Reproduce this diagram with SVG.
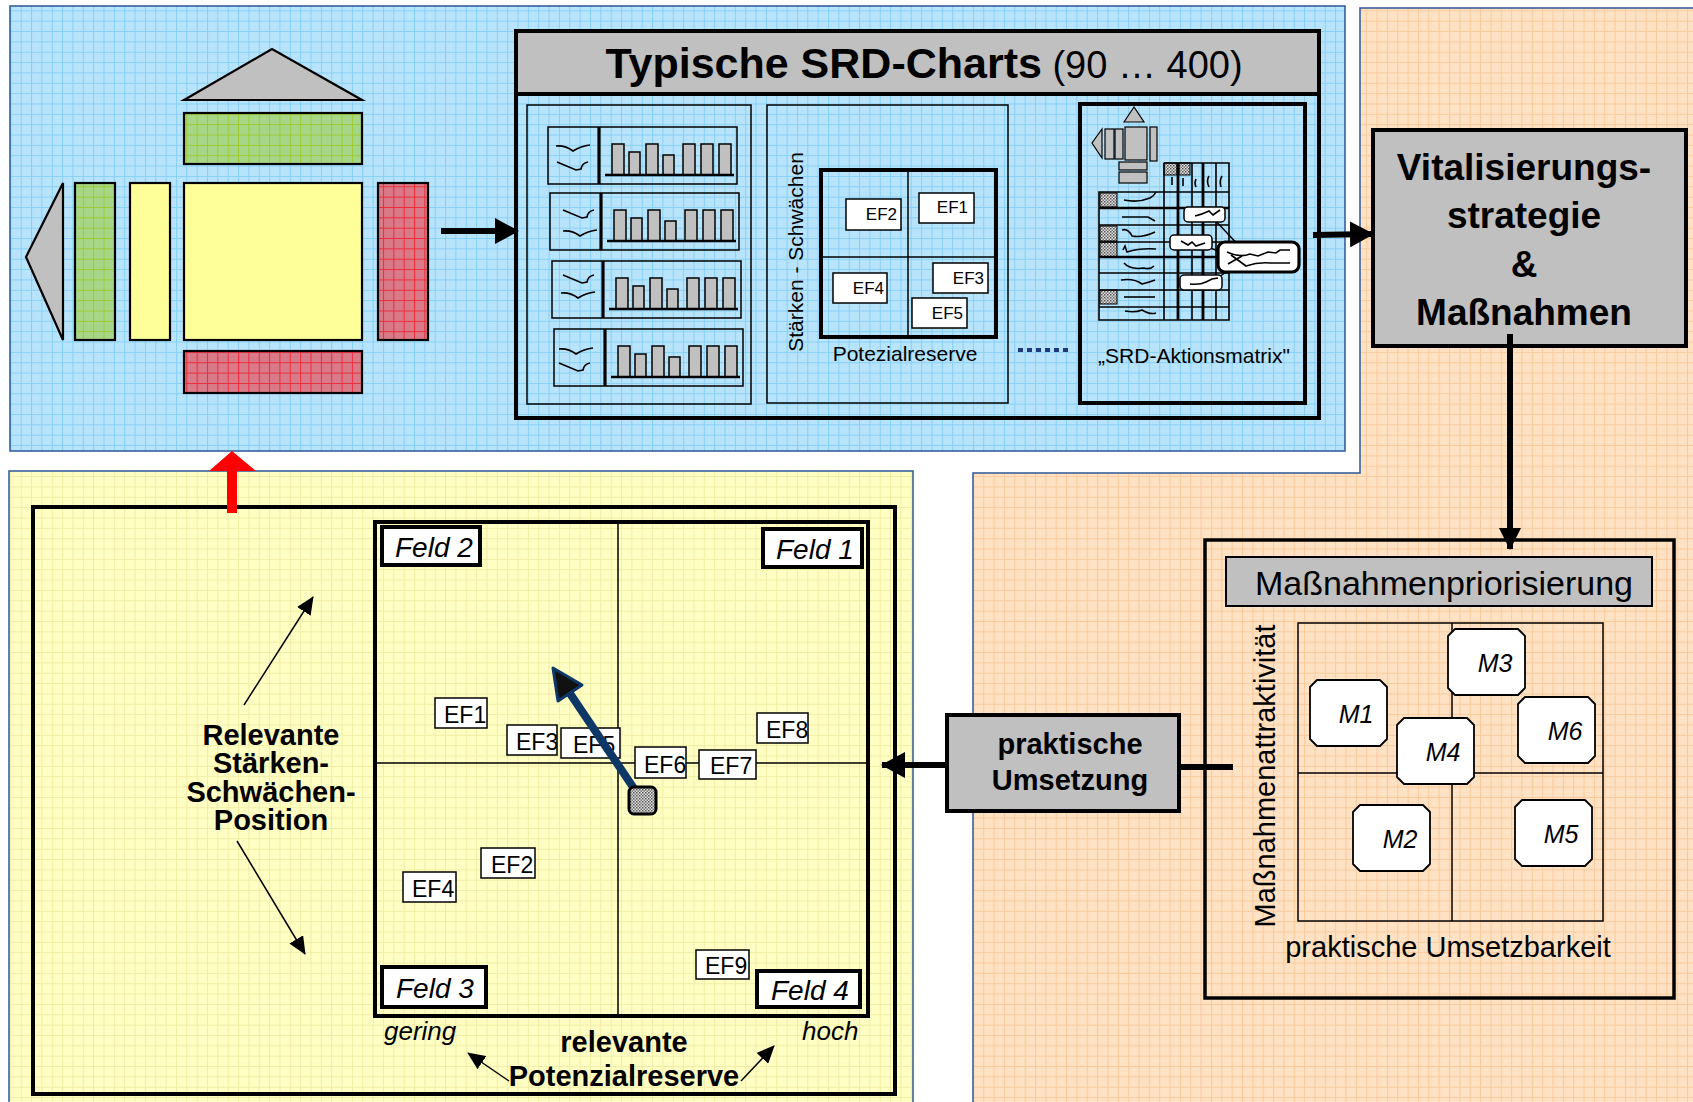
<svg xmlns="http://www.w3.org/2000/svg" xmlns:xlink="http://www.w3.org/1999/xlink" width="1693" height="1102" viewBox="0 0 1693 1102">
  <defs>
    <style>
      text { font-family: "Liberation Sans", Arial, "Noto Sans", sans-serif; fill: #000; }
      .panel { stroke: #2B5797; stroke-width: 1.5; }
      .ln { fill: none; stroke: #000; }
      .thin { fill: none; stroke: #000; stroke-width: 1.5; }
      .gray { fill: #C0C0C0; stroke: #000; stroke-width: 2; }
      .bar { fill: #C0C0C0; stroke: #000; stroke-width: 1.5; }
      .white { fill: #FFF; stroke: #000; stroke-width: 1.5; }
      .feld { fill: #FFF; stroke: #000; stroke-width: 4; }
      .feldtxt { font-size: 28px; font-style: italic; }
      .ef { font-size: 23px; }
      .efs { font-size: 17px; text-anchor: end; }
      .mtxt { font-size: 25px; font-style: italic; text-anchor: middle; }
      .sq { fill: none; stroke: #000; stroke-width: 1.6; }
      .conn { fill: none; stroke: #000; stroke-width: 6; }
    </style>
    <!-- background grids -->
    <pattern id="grid-blue" width="10.35" height="10.35" patternUnits="userSpaceOnUse">
      <rect width="10.35" height="10.35" fill="#B8E4FB"/>
      <path d="M0,0.5H10.35M0.5,0V10.35" stroke="#86CFF6" stroke-width="1"/>
    </pattern>
    <pattern id="grid-yellow" width="10.35" height="10.35" patternUnits="userSpaceOnUse">
      <rect width="10.35" height="10.35" fill="#FFFFC4"/>
      <path d="M0,0.5H10.35M0.5,0V10.35" stroke="#F1EDA6" stroke-width="1"/>
    </pattern>
    <pattern id="grid-orange" width="10.35" height="10.35" patternUnits="userSpaceOnUse">
      <rect width="10.35" height="10.35" fill="#FFE1C3"/>
      <path d="M0,0.5H10.35M0.5,0V10.35" stroke="#F8CB9E" stroke-width="1"/>
    </pattern>
    <pattern id="grid-green" width="10.35" height="10.35" patternUnits="userSpaceOnUse">
      <rect width="10.35" height="10.35" fill="#A8D689"/>
      <path d="M0,0.5H10.35M0.5,0V10.35" stroke="#9CCB2E" stroke-width="1"/>
    </pattern>
    <pattern id="grid-red" width="10.35" height="10.35" patternUnits="userSpaceOnUse">
      <rect width="10.35" height="10.35" fill="#D97A88"/>
      <path d="M0,0.5H10.35M0.5,0V10.35" stroke="#EE2A3A" stroke-width="1"/>
    </pattern>
    <pattern id="dots" width="3" height="3" patternUnits="userSpaceOnUse">
      <rect width="3" height="3" fill="#E0E0E0"/>
      <rect width="1.5" height="1.5" fill="#555"/>
      <rect x="1.5" y="1.5" width="1.5" height="1.5" fill="#777"/>
    </pattern>
    <!-- arrowheads -->
    <marker id="head-big" markerUnits="userSpaceOnUse" viewBox="0 0 24 26" refX="23" refY="13" markerWidth="24" markerHeight="26" orient="auto">
      <path d="M0,0 L24,13 L0,26 z" fill="#000"/>
    </marker>
    <marker id="head-mid" markerUnits="userSpaceOnUse" viewBox="0 0 22 22" refX="21" refY="11" markerWidth="22" markerHeight="22" orient="auto">
      <path d="M0,0 L22,11 L0,22 z" fill="#000"/>
    </marker>
    <marker id="head-thin" markerUnits="userSpaceOnUse" viewBox="0 0 18 16" refX="17" refY="8" markerWidth="18" markerHeight="16" orient="auto">
      <path d="M0,0 L18,8 L0,16 z" fill="#000"/>
    </marker>
    <!-- one SRD chart strip: frame, divider, bars -->
    <g id="chart-frame">
      <rect x="0" y="0" width="189" height="57" class="thin" stroke-width="2"/>
      <path d="M51,0V57" class="ln" stroke-width="3.2"/>
      <rect class="bar" x="64" y="17" width="12" height="31"/>
      <rect class="bar" x="81" y="25" width="11" height="23"/>
      <rect class="bar" x="98" y="17" width="12" height="31"/>
      <rect class="bar" x="115" y="28" width="11" height="20"/>
      <rect class="bar" x="135" y="17" width="12" height="31"/>
      <rect class="bar" x="153" y="17" width="12" height="31"/>
      <rect class="bar" x="171" y="17" width="12" height="31"/>
      <path d="M57,48H186" class="ln" stroke-width="2.5"/>
    </g>
    <path id="sq-v" class="sq" d="M0,0 Q9,-1 17,5 Q25,0 34,-1"/>
    <path id="sq-slant" class="sq" d="M0,0 L19,8 L24,7 Q25,1 31,0"/>
    <!-- measure card with chamfered corners -->
    <path id="mcard" d="M7,0 H70 L77,7 V59 L70,66 H7 L0,59 V7 Z" fill="#FFF" stroke="#000" stroke-width="1.8" stroke-linejoin="round"/>
  </defs>

  <!-- background panels -->
  <g id="panels">
    <rect x="0" y="0" width="1693" height="1102" fill="#FFF"/>
    <rect class="panel" x="10" y="6" width="1335" height="445" fill="url(#grid-blue)"/>
    <path class="panel" d="M1360,8 H1700 V1110 H973 V473 H1360 Z" fill="url(#grid-orange)"/>
    <rect class="panel" x="9" y="471" width="904" height="640" fill="url(#grid-yellow)"/>
  </g>

  <!-- source template: strengths/weaknesses layout -->
  <g id="node-vorlage" stroke="#000" stroke-width="2.2">
    <polygon points="184,100 272,49 362,100" fill="#C0C0C0"/>
    <rect x="184" y="113" width="178" height="51" fill="url(#grid-green)"/>
    <rect x="184" y="183" width="178" height="157" fill="#FFFF99"/>
    <rect x="184" y="351" width="178" height="42" fill="url(#grid-red)"/>
    <polygon points="63,183 26,257 63,340" fill="#C0C0C0"/>
    <rect x="75" y="183" width="40" height="157" fill="url(#grid-green)"/>
    <rect x="130" y="183" width="40" height="157" fill="#FFFF99"/>
    <rect x="378" y="183" width="50" height="157" fill="url(#grid-red)"/>
  </g>

  <!-- typical SRD charts -->
  <g id="node-srd-charts">
    <rect x="516" y="31" width="803" height="387" fill="none" stroke="#000" stroke-width="4"/>
    <rect x="516" y="31" width="803" height="63" fill="#C0C0C0" stroke="#000" stroke-width="4"/>
    <text x="924" y="78" text-anchor="middle"><tspan font-weight="bold" font-size="43">Typische SRD-Charts</tspan><tspan font-size="38"> (90 … 400)</tspan></text>

    <!-- chart strips -->
    <g id="chart-list">
      <rect x="527" y="105" width="224" height="299" class="thin" stroke-width="2"/>
      <use href="#chart-frame" x="548" y="127"/>
      <use href="#sq-v" x="556" y="146"/>
      <use href="#sq-slant" x="557" y="162"/>
      <use href="#chart-frame" x="550" y="193"/>
      <use href="#sq-slant" x="563" y="210"/>
      <use href="#sq-v" x="563" y="231"/>
      <use href="#chart-frame" x="552" y="261"/>
      <use href="#sq-slant" x="563" y="275"/>
      <use href="#sq-v" x="561" y="293"/>
      <use href="#chart-frame" x="554" y="329"/>
      <use href="#sq-v" x="559" y="349"/>
      <use href="#sq-slant" x="559" y="363"/>
    </g>

    <!-- small portfolio -->
    <g id="chart-portfolio">
      <rect x="767" y="105" width="241" height="298" class="thin" stroke-width="2"/>
      <rect x="821" y="170" width="175" height="167" fill="none" stroke="#000" stroke-width="4"/>
      <path d="M908,170V337M821,257H996" class="thin"/>
      <rect class="white" x="846" y="199" width="55" height="31"/>
      <text class="efs" x="897" y="220">EF2</text>
      <rect class="white" x="919" y="193" width="55" height="30"/>
      <text class="efs" x="968" y="213">EF1</text>
      <rect class="white" x="833" y="273" width="54" height="30"/>
      <text class="efs" x="884" y="294">EF4</text>
      <rect class="white" x="933" y="263" width="55" height="30"/>
      <text class="efs" x="984" y="284">EF3</text>
      <rect class="white" x="912" y="298" width="55" height="30"/>
      <text class="efs" x="963" y="319">EF5</text>
      <text x="905" y="361" font-size="21" text-anchor="middle">Potezialreserve</text>
      <text transform="translate(803,252) rotate(-90)" font-size="21" text-anchor="middle">Stärken - Schwächen</text>
    </g>

    <path d="M1018,350H1070" stroke="#1F3A7A" stroke-width="4" stroke-dasharray="5,4"/>

    <!-- action matrix -->
    <g id="chart-aktionsmatrix">
      <rect x="1080" y="104" width="225" height="299" fill="none" stroke="#000" stroke-width="4"/>
      <g stroke="#000" stroke-width="1.2" fill="#C0C0C0">
        <polygon points="1124,122 1134,107 1144,122"/>
        <polygon points="1102,129 1092,143 1102,158"/>
        <rect x="1105" y="129" width="9" height="30"/>
        <rect x="1115" y="129" width="8" height="30"/>
        <rect x="1125" y="127" width="22" height="33"/>
        <rect x="1150" y="127" width="7" height="34"/>
        <rect x="1119" y="162" width="28" height="8"/>
        <rect x="1119" y="172" width="28" height="11"/>
      </g>
      <g fill="url(#dots)" stroke="#000" stroke-width="1">
        <rect x="1164" y="163" width="13" height="12"/>
        <rect x="1179" y="163" width="11" height="12"/>
        <rect x="1100" y="193" width="17" height="14"/>
        <rect x="1100" y="226" width="17" height="15"/>
        <rect x="1100" y="242" width="17" height="15"/>
        <rect x="1100" y="290" width="17" height="14"/>
      </g>
      <g class="ln" stroke-width="1.6">
        <path d="M1164,163H1229V320H1099V192H1229"/>
        <path d="M1164,163V320M1192,163V320M1216,163V320"/>
        <path d="M1178,163V320M1203,163V320" stroke-width="2.8"/>
        <path d="M1099,225H1229M1099,242H1229M1099,273H1229M1099,290H1229M1099,307H1229"/>
        <path d="M1099,208H1229M1099,257H1229" stroke-width="2.6"/>
      </g>
      <g class="sq" stroke-width="1.3">
        <path d="M1172,177V185M1183,178V186M1196,179Q1194,183 1196,187M1209,176Q1206,181 1209,187M1222,176Q1219,181 1221,187"/>
        <path d="M1124,200Q1138,203 1150,198Q1154,196 1156,192"/>
        <path d="M1122,217H1148L1155,221"/>
        <path d="M1122,230Q1128,228 1132,236Q1142,238 1155,232"/>
        <path d="M1123,250L1125,246L1127,252Q1140,248 1156,249"/>
        <path d="M1124,263Q1130,270 1144,268Q1150,270 1154,266"/>
        <path d="M1121,280Q1134,278 1142,284Q1150,282 1155,280"/>
        <path d="M1124,297H1155"/>
        <path d="M1125,311Q1135,313 1142,310Q1150,315 1156,313"/>
      </g>
      <g class="thin" stroke-width="1.3">
        <path d="M1212,217L1243,250M1197,243L1242,260M1208,285L1226,272M1232,247L1248,270"/>
      </g>
      <rect class="white" x="1184" y="207" width="41" height="15" rx="4"/>
      <rect class="white" x="1170" y="235" width="42" height="15" rx="4"/>
      <rect class="white" x="1180" y="275" width="42" height="15" rx="4"/>
      <rect x="1218" y="242" width="81" height="30" rx="7" fill="#FFF" stroke="#000" stroke-width="3.2"/>
      <g class="sq" stroke-width="1.3">
        <path d="M1195,216Q1203,214 1209,211L1213,215Q1217,212 1220,210"/>
        <path d="M1181,241L1188,245L1192,242L1196,246L1205,243"/>
        <path d="M1190,284Q1200,285 1206,282L1212,279L1218,278"/>
        <path d="M1227,252Q1240,258 1250,254L1258,256L1268,252L1276,253L1280,250H1290"/>
        <path d="M1228,264L1242,256M1231,255L1246,266Q1258,262 1270,263H1290"/>
      </g>
      <text x="1194" y="363" font-size="21" text-anchor="middle">„SRD-Aktionsmatrix"</text>
    </g>
  </g>

  <!-- strategy -->
  <g id="node-vitalisierung">
    <rect x="1373" y="130" width="313" height="216" fill="#C0C0C0" stroke="#000" stroke-width="4"/>
    <g font-weight="bold" font-size="37" text-anchor="middle">
      <text x="1524" y="180">Vitalisierungs-</text>
      <text x="1524" y="228">strategie</text>
      <text x="1524" y="277">&amp;</text>
      <text x="1524" y="325">Maßnahmen</text>
    </g>
  </g>

  <!-- prioritisation of measures -->
  <g id="node-massnahmen">
    <rect x="1205" y="540" width="469" height="458" fill="none" stroke="#000" stroke-width="3.5"/>
    <rect x="1226" y="557" width="426" height="49" fill="#C0C0C0" stroke="#000" stroke-width="2"/>
    <text x="1444" y="595" font-size="34" text-anchor="middle">Maßnahmenpriorisierung</text>
    <rect x="1298" y="623" width="305" height="298" class="thin" stroke-width="2"/>
    <path d="M1452,623V921M1298,773H1603" class="thin" stroke-width="2"/>
    <use href="#mcard" x="1448" y="629"/>
    <text class="mtxt" x="1495" y="672">M3</text>
    <use href="#mcard" x="1310" y="680"/>
    <text class="mtxt" x="1356" y="723">M1</text>
    <use href="#mcard" x="1518" y="697"/>
    <text class="mtxt" x="1565" y="740">M6</text>
    <use href="#mcard" x="1397" y="718"/>
    <text class="mtxt" x="1443" y="761">M4</text>
    <use href="#mcard" x="1353" y="805"/>
    <text class="mtxt" x="1400" y="848">M2</text>
    <use href="#mcard" x="1515" y="800"/>
    <text class="mtxt" x="1561" y="843">M5</text>
    <text transform="translate(1275,776) rotate(-90)" font-size="29" text-anchor="middle">Maßnahmenattraktivität</text>
    <text x="1448" y="957" font-size="29" text-anchor="middle">praktische Umsetzbarkeit</text>
  </g>

  <!-- implementation -->
  <g id="node-umsetzung">
    <rect x="947" y="715" width="232" height="96" fill="#C0C0C0" stroke="#000" stroke-width="4"/>
    <g font-weight="bold" font-size="29" text-anchor="middle">
      <text x="1070" y="754">praktische</text>
      <text x="1070" y="790">Umsetzung</text>
    </g>
  </g>

  <!-- strengths/weaknesses portfolio -->
  <g id="node-portfolio">
    <rect x="33" y="507" width="862" height="587" fill="none" stroke="#000" stroke-width="4"/>
    <rect x="375" y="522" width="493" height="494" fill="none" stroke="#000" stroke-width="4"/>
    <path d="M618,522V1016M375,763H868" class="thin" stroke-width="1.8"/>

    <rect class="feld" x="382" y="527" width="98" height="38"/>
    <text class="feldtxt" x="395" y="557">Feld 2</text>
    <rect class="feld" x="763" y="529" width="99" height="38"/>
    <text class="feldtxt" x="776" y="559">Feld 1</text>
    <rect class="feld" x="382" y="967" width="104" height="40"/>
    <text class="feldtxt" x="396" y="998">Feld 3</text>
    <rect class="feld" x="757" y="971" width="103" height="36"/>
    <text class="feldtxt" x="771" y="1000">Feld 4</text>

    <rect class="white" x="435" y="698" width="52" height="30"/>
    <text class="ef" x="444" y="723">EF1</text>
    <rect class="white" x="507" y="725" width="50" height="30"/>
    <text class="ef" x="516" y="750">EF3</text>
    <rect class="white" x="561" y="728" width="59" height="30"/>
    <text class="ef" x="573" y="753">EF5</text>
    <rect class="white" x="635" y="747" width="51" height="31"/>
    <text class="ef" x="644" y="773">EF6</text>
    <rect class="white" x="699" y="750" width="57" height="29"/>
    <text class="ef" x="710" y="774">EF7</text>
    <rect class="white" x="757" y="713" width="51" height="30"/>
    <text class="ef" x="766" y="738">EF8</text>
    <rect class="white" x="481" y="848" width="54" height="30"/>
    <text class="ef" x="491" y="873">EF2</text>
    <rect class="white" x="403" y="872" width="53" height="30"/>
    <text class="ef" x="412" y="897">EF4</text>
    <rect class="white" x="696" y="950" width="53" height="29"/>
    <text class="ef" x="705" y="974">EF9</text>

    <!-- movement of the overall position -->
    <path d="M637,793L569,692" fill="none" stroke="#0D3766" stroke-width="8" stroke-linecap="round"/>
    <polygon points="553,668 582,685 558,701" fill="#111" stroke="#0D3766" stroke-width="3" stroke-linejoin="round"/>
    <rect x="629" y="787" width="27" height="27" rx="5" fill="url(#dots)" stroke="#000" stroke-width="3"/>

    <!-- axis captions -->
    <g font-weight="bold" font-size="29" text-anchor="middle">
      <text x="271" y="745">Relevante</text>
      <text x="271" y="773">Stärken-</text>
      <text x="271" y="802">Schwächen-</text>
      <text x="271" y="830">Position</text>
      <text x="624" y="1052">relevante</text>
      <text x="624" y="1086">Potenzialreserve</text>
    </g>
    <text x="384" y="1040" font-size="26" font-style="italic">gering</text>
    <text x="802" y="1040" font-size="26" font-style="italic">hoch</text>
    <g class="thin" stroke-width="1.6" marker-end="url(#head-thin)">
      <path d="M244,705L313,597"/>
      <path d="M237,841L305,954"/>
      <path d="M509,1081L468,1053"/>
      <path d="M741,1081L774,1046"/>
    </g>
  </g>

  <!-- connectors -->
  <g id="connectors">
    <path class="conn" d="M441,231H518" marker-end="url(#head-big)"/>
    <path class="conn" d="M1313,235L1373,234" marker-end="url(#head-big)"/>
    <path class="conn" d="M1510,334V549" stroke-width="5" marker-end="url(#head-mid)"/>
    <path class="conn" d="M1179,767H1233" stroke-width="5"/>
    <path class="conn" d="M947,765H882" stroke-width="5" marker-end="url(#head-big)"/>
    <path d="M227,513V471H209L232,451L256,471H237V513Z" fill="#F00"/>
  </g>
</svg>
